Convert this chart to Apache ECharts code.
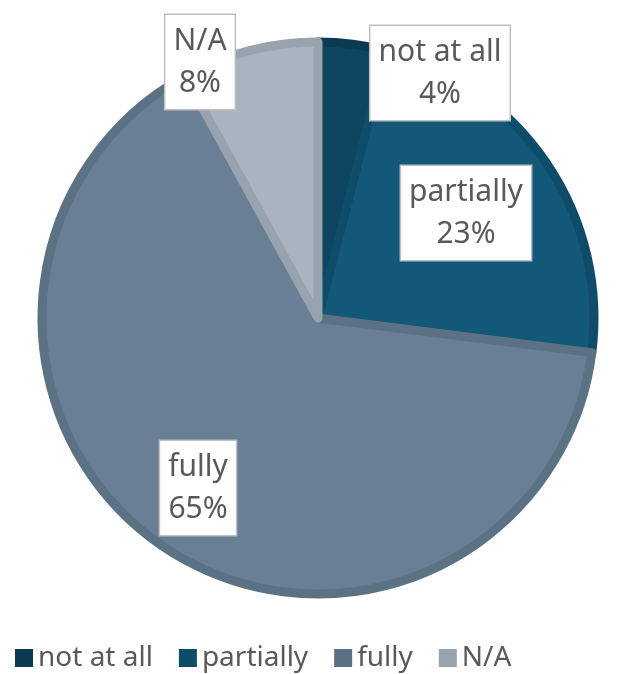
<!DOCTYPE html>
<html><head><meta charset="utf-8">
<script src="https://cdn.jsdelivr.net/npm/echarts@6/dist/echarts.min.js"></script>
<style>html,body{margin:0;padding:0;background:#fff}#c{width:636px;height:674px}</style>
</head><body><div id="c"></div>
<script>
const categories = ['not at all', 'partially', 'fully', 'N/A'];
const values = [4, 23, 65, 8];
const fillColors = ['#0e4560', '#135878', '#687f95', '#a9b4c1'];
const edgeColors = ['#0c3a52', '#0f4c69', '#5b7285', '#98a3ae'];
const labelPos = [[440, 73], [466, 213], [198, 488], [200, 62]];

const chart = echarts.init(document.getElementById('c'), null, {renderer: 'canvas'});
chart.setOption({
  animation: false,
  legend: {
    left: 10, top: 639,
    itemWidth: 18, itemHeight: 18, itemGap: 26,
    icon: 'rect',
    textStyle: {fontFamily: 'Noto Sans', fontSize: 28, color: '#595959'},
    itemStyle: {borderWidth: 0},
    data: categories.map((c, i) => ({name: c, itemStyle: {color: edgeColors[i], borderWidth: 0}}))
  },
  series: [{
    type: 'pie',
    center: [318, 318],
    radius: 276,
    startAngle: 90,
    clockwise: true,
    data: categories.map((c, i) => ({
      name: c, value: values[i],
      itemStyle: {color: fillColors[i], borderColor: edgeColors[i], borderWidth: 9}
    })),
    label: {
      show: true,
      position: 'inside',
      formatter: p => p.name + '\n' + p.percent.toFixed(0) + '%',
      fontFamily: 'Noto Sans', fontSize: 30, lineHeight: 42, color: '#595959',
      backgroundColor: '#fff', borderColor: '#bfbfbf', borderWidth: 1.5,
      padding: [5, 8, 5, 8], align: 'center', verticalAlign: 'middle'
    },
    labelLine: {show: false},
    labelLayout: p => ({x: labelPos[p.dataIndex][0], y: labelPos[p.dataIndex][1], align: 'center', verticalAlign: 'middle'})
  }]
});
</script></body></html>
